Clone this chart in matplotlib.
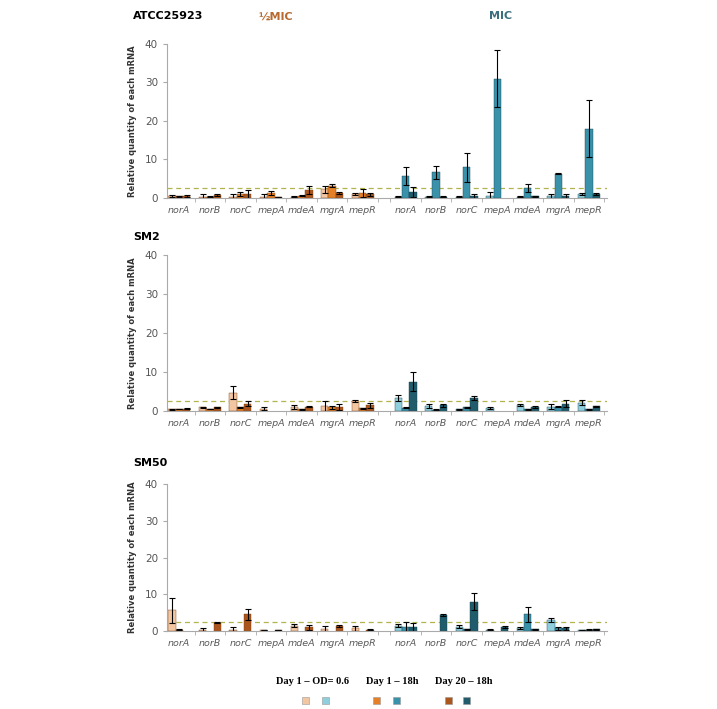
import numpy as np
import matplotlib
matplotlib.use("Agg")
import matplotlib.pyplot as plt
from matplotlib.patches import Rectangle

genes = ["norA", "norB", "norC", "mepA", "mdeA", "mgrA", "mepR"]
strains = ["ATCC25923", "SM2", "SM50"]
conditions = ["Day 1 \u2013 OD= 0.6", "Day 1 \u2013 18h", "Day 20 \u2013 18h"]
threshold = 2.5

# rows: Day1 OD0.6, Day1 18h, Day20 18h ; columns: genes
atcc_half = [[0.5, 0.3, 0.3, 0.3, 0.3, 2.2, 1.0],
             [0.4, 0.3, 1.0, 1.3, 0.6, 3.2, 1.3],
             [0.5, 0.8, 1.0, 0.2, 2.0, 1.2, 0.9]]
atcc_half_err = [[0.2, 0.8, 0.8, 0.7, 0.1, 1.0, 0.2],
                 [0.2, 0.1, 0.6, 0.5, 0.1, 0.4, 1.0],
                 [0.2, 0.3, 1.0, 0.1, 1.0, 0.3, 0.3]]
atcc_mic = [[0.3, 0.3, 0.3, 0.5, 0.3, 0.5, 1.0],
            [5.7, 6.6, 7.9, 31.0, 2.6, 6.3, 17.9],
            [1.5, 0.3, 0.5, np.nan, 0.4, 0.5, 1.0]]
atcc_mic_err = [[0.1, 0.1, 0.1, 1.0, 0.1, 0.5, 0.2],
                [2.4, 1.7, 3.8, 7.4, 1.0, 0.2, 7.4],
                [1.3, 0.1, 0.5, 0.0, 0.1, 0.6, 0.3]]

sm2_half = [[0.3, 0.8, 4.6, 0.5, 1.0, 1.2, 2.5],
            [0.4, 0.4, 0.8, np.nan, 0.3, 0.8, 0.6],
            [0.5, 0.8, 1.8, np.nan, 1.0, 1.0, 1.3]]
sm2_half_err = [[0.1, 0.1, 1.6, 0.3, 0.5, 1.3, 0.3],
                [0.1, 0.1, 0.1, 0.0, 0.1, 0.4, 0.1],
                [0.1, 0.1, 0.7, 0.0, 0.1, 0.8, 0.7]]
sm2_mic = [[3.2, 1.2, 0.3, 0.6, 1.5, 1.0, 2.0],
           [0.7, 0.2, 0.8, np.nan, 0.3, 1.0, 0.3],
           [7.4, 1.3, 3.3, np.nan, 0.9, 1.8, 1.1]]
sm2_mic_err = [[0.7, 0.5, 0.1, 0.2, 0.3, 0.6, 0.6],
               [0.1, 0.1, 0.1, 0.0, 0.1, 0.2, 0.1],
               [2.4, 0.5, 0.5, 0.0, 0.2, 0.8, 0.1]]

sm50_half = [[5.7, 0.2, 0.3, 0.3, 1.4, 0.6, 0.8],
             [0.4, np.nan, np.nan, np.nan, np.nan, np.nan, np.nan],
             [np.nan, 2.3, 4.5, 0.3, 1.0, 1.3, 0.4]]
sm50_half_err = [[3.4, 0.7, 0.9, 0.1, 0.4, 0.8, 0.7],
                 [0.1, 0.0, 0.0, 0.0, 0.0, 0.0, 0.0],
                 [0.0, 0.2, 1.5, 0.1, 0.7, 0.3, 0.1]]
sm50_mic = [[1.5, np.nan, 1.2, 0.4, 0.8, 3.0, 0.3],
            [1.0, np.nan, 0.5, np.nan, 4.5, 0.8, 0.4],
            [1.0, 4.4, 8.0, 1.2, 0.5, 0.8, 0.5]]
sm50_mic_err = [[0.4, 0.0, 0.4, 0.1, 0.3, 0.6, 0.1],
                [1.5, 0.0, 0.1, 0.0, 2.0, 0.4, 0.1],
                [1.3, 0.2, 2.3, 0.3, 0.1, 0.4, 0.1]]

half_colors = ["#f3c6a2", "#e57f28", "#ab561d"]
mic_colors = ["#8fcfdd", "#3a92aa", "#215c6c"]
half_edge = "#7a3f14"
mic_edge = "#17414d"

panels = [(atcc_half, atcc_half_err, atcc_mic, atcc_mic_err),
          (sm2_half, sm2_half_err, sm2_mic, sm2_mic_err),
          (sm50_half, sm50_half_err, sm50_mic, sm50_mic_err)]

fig = plt.figure(figsize=(7.17, 7.09), dpi=100)

x_half = np.arange(len(genes))
x_mic = np.arange(len(genes)) + 7.4
w = 0.24
offsets = [-w, 0, w]

# axes rectangles [left, bottom, width, height] in figure fraction
boxes = [[0.233, 0.721, 0.614, 0.217],
         [0.233, 0.421, 0.614, 0.219],
         [0.233, 0.110, 0.614, 0.207]]
title_y = [0.977, 0.666, 0.347]

for k, (h, he, m, me) in enumerate(panels):
    ax = fig.add_axes(boxes[k])
    for j in range(3):
        ax.bar(x_half + offsets[j], h[j], w, color=half_colors[j],
               edgecolor=half_edge, linewidth=0.3,
               yerr=he[j], capsize=2.2, ecolor="black",
               error_kw={"elinewidth": 0.8, "capthick": 0.8})
        ax.bar(x_mic + offsets[j], m[j], w, color=mic_colors[j],
               edgecolor=mic_edge, linewidth=0.3,
               yerr=me[j], capsize=2.2, ecolor="black",
               error_kw={"elinewidth": 0.8, "capthick": 0.8})
    ax.axhline(threshold, color="#b3b34d", ls=(0, (4, 3)), lw=0.9, zorder=0)
    ax.set_xlim(-0.4, 14.0)
    ax.set_ylim(0, 40)
    ax.set_yticks([0, 10, 20, 30, 40])
    ticks = np.concatenate([x_half, x_mic])
    ax.set_xticks(ticks)
    ax.set_xticklabels(genes + genes, style="italic", fontsize=6.8, color="#5a5a5a")
    ax.set_xticks(np.concatenate([x_half + 0.5, x_mic - 0.5, [x_mic[-1] + 0.5]]), minor=True)
    ax.tick_params(axis="x", which="major", length=0, pad=6)
    ax.tick_params(axis="x", which="minor", length=3, color="#aaaaaa")
    ax.tick_params(axis="y", labelsize=7.5, labelcolor="#555555", color="#aaaaaa", length=3)
    for s in ["top", "right"]:
        ax.spines[s].set_visible(False)
    for s in ["left", "bottom"]:
        ax.spines[s].set_color("#aaaaaa")
        ax.spines[s].set_linewidth(0.8)
    ax.set_ylabel("Relative quantity of each mRNA", fontsize=6, fontweight="bold",
                  color="#333333", labelpad=6)
    fig.text(0.186, title_y[k], strains[k], fontsize=8, fontweight="bold",
             ha="left", va="center")

fig.text(0.384, 0.977, "\u00bdMIC", fontsize=8, fontweight="bold", color="#b8682e",
         ha="center", va="center")
fig.text(0.698, 0.977, "MIC", fontsize=8, fontweight="bold", color="#3b6e7e",
         ha="center", va="center")

# legend
leg_text_x = [312, 392, 464]
leg_sq_x = [(305, 325), (376, 396), (448, 466)]
for i in range(3):
    fig.text(leg_text_x[i] / 717, 1 - 681 / 709, conditions[i], fontsize=7.5,
             fontweight="bold", family="Liberation Serif", ha="center", va="center")
    for xs, col in zip(leg_sq_x[i], [half_colors[i], mic_colors[i]]):
        fig.patches.append(Rectangle(((xs - 3.5) / 717, 1 - 704 / 709), 7 / 717, 7 / 709,
                                     transform=fig.transFigure, facecolor=col,
                                     edgecolor="#999999", linewidth=0.4))

fig.savefig("out.png", dpi=100)
